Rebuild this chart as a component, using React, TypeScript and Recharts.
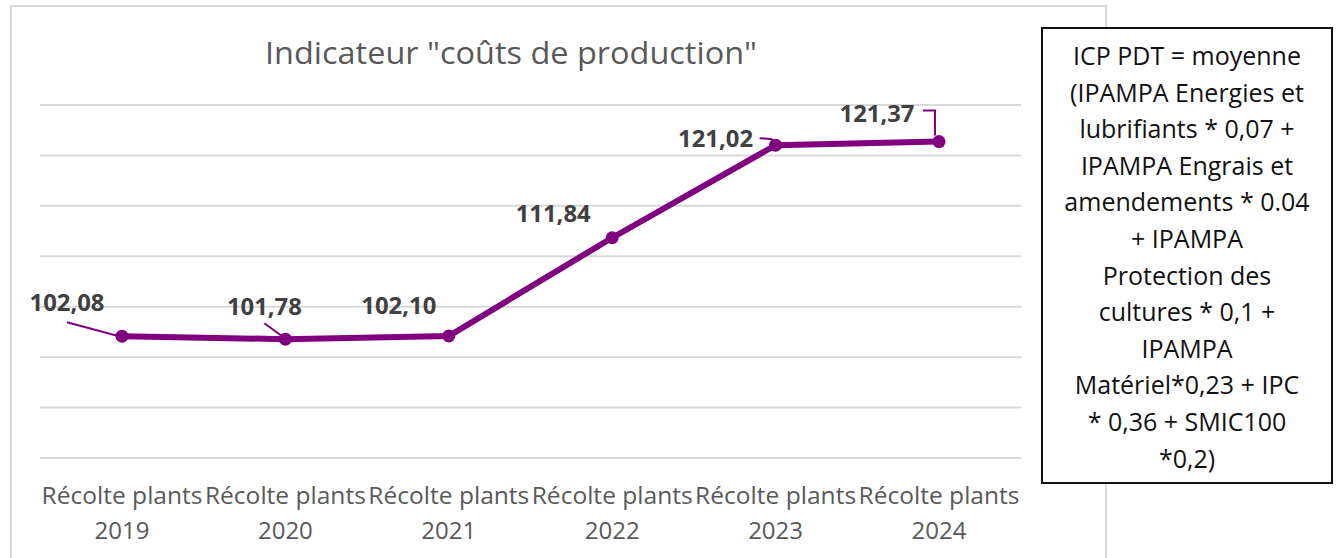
import React from 'react';
import { LineChart, Line, XAxis, YAxis, CartesianGrid, LabelList } from 'recharts';

const categories = [
  'Récolte plants 2019',
  'Récolte plants 2020',
  'Récolte plants 2021',
  'Récolte plants 2022',
  'Récolte plants 2023',
  'Récolte plants 2024',
];
const values = [102.08, 101.78, 102.1, 111.84, 121.02, 121.37];
const yTicks = [90, 95, 100, 105, 110, 115, 120, 125];
const titleText = 'Indicateur "coûts de production"';
const noteLines = [
  'ICP PDT = moyenne',
  '(IPAMPA Energies et',
  'lubrifiants * 0,07 +',
  'IPAMPA Engrais et',
  'amendements * 0.04',
  '+ IPAMPA',
  'Protection des',
  'cultures * 0,1 +',
  'IPAMPA',
  'Matériel*0,23 + IPC',
  '* 0,36 + SMIC100',
  '*0,2)',
];

const data = categories.map((c, i) => ({ name: c, value: values[i] }));

const PURPLE = '#800080';
const GRID = '#d9d9d9';
const TEXT_GRAY = '#595959';
const LABEL_GRAY = '#404040';

// label placement relative to each point (style only)
const LABEL_LAYOUT: { dx: number; dy: number; leader: number[][] | null }[] = [
  { dx: -55, dy: -34, leader: [[-55, -14], [-3, 0]] },
  { dx: -21, dy: -33, leader: [[-21, -16], [-2, -2]] },
  { dx: -50, dy: -31, leader: null },
  { dx: -59, dy: -25, leader: null },
  { dx: -60, dy: -7, leader: [[-16, -7], [-4, -6], [-2, -2]] },
  { dx: -62, dy: -29, leader: [[-16, -31], [-4, -31], [-4, -6]] },
];

const fmt = (v: number) => v.toFixed(2).replace('.', ',');

const DataLabel = (props: any) => {
  const { x, y, value, index } = props;
  const lay = LABEL_LAYOUT[index];
  if (!lay || x == null || y == null) return null;
  return (
    <g>
      {lay.leader && (
        <polyline
          points={lay.leader.map(([a, b]) => `${x + a},${y + b}`).join(' ')}
          fill="none"
          stroke={PURPLE}
          strokeWidth={2}
        />
      )}
      <text
        x={x + lay.dx}
        y={y + lay.dy}
        textAnchor="middle"
        dominantBaseline="central"
        fontFamily="'Open Sans', sans-serif"
        fontWeight={700}
        fontSize={23}
        fill={LABEL_GRAY}
        textLength={75}
        lengthAdjust="spacingAndGlyphs"
      >
        {fmt(Number(value))}
      </text>
    </g>
  );
};

const CategoryTick = (props: any) => {
  const { x, y, payload } = props;
  const s = String(payload.value);
  const k = s.lastIndexOf(' ');
  const l1 = s.slice(0, k);
  const l2 = s.slice(k + 1);
  return (
    <g>
      <text
        x={x}
        y={y + 29}
        textAnchor="middle"
        dominantBaseline="central"
        fontFamily="'Open Sans', sans-serif"
        fontSize={23}
        fill={TEXT_GRAY}
        textLength={161}
        lengthAdjust="spacingAndGlyphs"
      >
        {l1}
      </text>
      <text
        x={x}
        y={y + 63}
        textAnchor="middle"
        dominantBaseline="central"
        fontFamily="'Open Sans', sans-serif"
        fontSize={24}
        fill={TEXT_GRAY}
      >
        {l2}
      </text>
    </g>
  );
};

export default function App() {
  return (
    <div
      style={{
        position: 'fixed',
        left: 0,
        top: 0,
        width: 1340,
        height: 558,
        overflow: 'hidden',
        background: '#fff',
      }}
    >
      <div
        style={{
          position: 'absolute',
          left: 10,
          top: 5,
          width: 1097,
          height: 600,
          border: `2px solid ${GRID}`,
          boxSizing: 'border-box',
        }}
      />
      <svg
        width={1340}
        height={100}
        style={{ position: 'absolute', left: 0, top: 0 }}
      >
        <text
          x={511}
          y={52}
          textAnchor="middle"
          dominantBaseline="central"
          fontFamily="'Open Sans', sans-serif"
          fontSize={31}
          fill={TEXT_GRAY}
          textLength={492}
          lengthAdjust="spacingAndGlyphs"
        >
          {titleText}
        </text>
      </svg>
      <div style={{ position: 'absolute', left: 0, top: 0 }}>
        <LineChart
          width={1340}
          height={558}
          data={data}
          margin={{ top: 105, right: 319, left: 40, bottom: 40 }}
        >
          <CartesianGrid
            vertical={false}
            stroke={GRID}
            strokeWidth={2}
          />
          <YAxis hide domain={[90, 125]} ticks={yTicks} type="number" />
          <XAxis
            dataKey="name"
            height={60}
            axisLine={false}
            tickLine={false}
            interval={0}
            padding={{ left: 82, right: 82 }}
            tick={<CategoryTick />}
          />
          <Line
            type="linear"
            dataKey="value"
            stroke={PURPLE}
            strokeWidth={6}
            dot={{ r: 6.5, fill: PURPLE, stroke: PURPLE, strokeWidth: 0 }}
            isAnimationActive={false}
          >
            <LabelList dataKey="value" content={<DataLabel />} />
          </Line>
        </LineChart>
      </div>
      <div
        style={{
          position: 'absolute',
          left: 1041,
          top: 27,
          width: 292,
          height: 457,
          border: '2px solid #111',
          boxSizing: 'border-box',
          background: '#fff',
          paddingTop: 8,
          fontFamily: "'Open Sans', sans-serif",
          fontSize: 25,
          lineHeight: '36.6px',
          color: '#111',
          textAlign: 'center',
        }}
      >
        {noteLines.map((l, i) => (
          <div key={i} style={{ whiteSpace: 'nowrap' }}>
            {l}
          </div>
        ))}
      </div>
    </div>
  );
}
